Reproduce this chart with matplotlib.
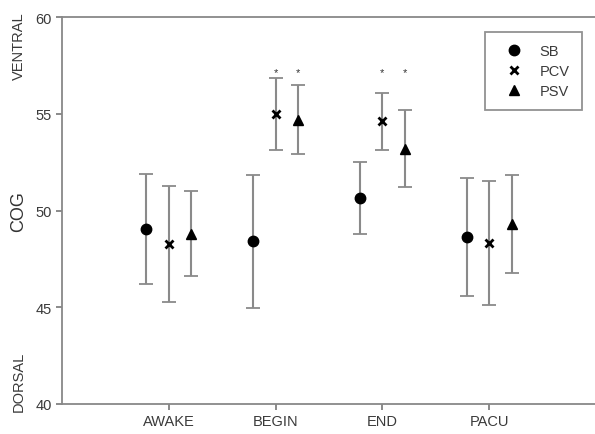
import matplotlib
matplotlib.use("Agg")
import matplotlib.pyplot as plt
from matplotlib.lines import Line2D
import numpy as np

plt.rcParams['font.family'] = ['Liberation Sans', 'DejaVu Sans']

phases = ["AWAKE", "BEGIN", "END", "PACU"]
series = ["SB", "PCV", "PSV"]
sb_mean = [49.05, 48.4, 50.65, 48.65]
sb_sd = [2.85, 3.45, 1.85, 3.05]
pcv_mean = [48.25, 55.0, 54.6, 48.3]
pcv_sd = [3.0, 1.85, 1.45, 3.2]
psv_mean = [48.8, 54.7, 53.2, 49.3]
psv_sd = [2.2, 1.8, 2.0, 2.55]
# significance markers (phase index, series index)
stars = [(1, 1), (1, 2), (2, 1), (2, 2)]
star_y = 57.15

means = [sb_mean, pcv_mean, psv_mean]
sds = [sb_sd, pcv_sd, psv_sd]
markers = ["o", "x", "^"]
msizes = [7.5, 6, 7]
offsets = [-0.21, 0.0, 0.21]

W, H = 595, 435
fig = plt.figure(figsize=(W / 100, H / 100), dpi=100)
ax = fig.add_axes([62 / W, 30 / H, 534 / W, 387 / H])

xpos = np.arange(1, len(phases) + 1)
for m, s, mk, ms, off in zip(means, sds, markers, msizes, offsets):
    ax.errorbar(xpos + off, m, yerr=s, fmt="none", ecolor="#8a8a8a",
                elinewidth=1.5, capsize=5, capthick=1.3, zorder=2)
    ax.plot(xpos + off, m, linestyle="none", marker=mk, markersize=ms,
            color="black", markeredgewidth=2 if mk == "x" else 1, zorder=3)

for pi, si in stars:
    ax.text(xpos[pi] + offsets[si], star_y, "*", ha="center", va="center",
            fontsize=8, color="#333333")

ax.set_xlim(0, 5)
ax.set_ylim(40, 60)
ax.set_xticks(xpos)
ax.set_xticklabels(phases)
ax.set_yticks([40, 45, 50, 55, 60])
ax.tick_params(axis="both", colors="#777777", labelcolor="#3a3a3a",
               labelsize=10.5, length=4, width=1.2)
for sp in ["left", "bottom", "top"]:
    ax.spines[sp].set_color("#888888")
    ax.spines[sp].set_linewidth(1.3)
ax.spines["right"].set_visible(False)

fig.text(19 / W, 1 - 212 / H, "COG", rotation=90, ha="center", va="center",
         fontsize=13, color="#333333")
fig.text(19 / W, 1 - 46 / H, "VENTRAL", rotation=90, ha="center", va="center",
         fontsize=10.5, color="#3a3a3a")
fig.text(19 / W, 1 - 382 / H, "DORSAL", rotation=90, ha="center", va="center",
         fontsize=10.5, color="#3a3a3a")

handles = [Line2D([], [], linestyle="none", marker=mk, markersize=ms,
                  color="black", markeredgewidth=2 if mk == "x" else 1)
           for mk, ms in zip(markers, msizes)]
leg = fig.legend(handles, series, loc="upper left",
                 bbox_to_anchor=(485 / W, 1 - 33 / H), frameon=True,
                 fancybox=False, fontsize=10.5, handlelength=2.3,
                 handletextpad=0.6, borderpad=0.85, labelspacing=0.4,
                 borderaxespad=0)
leg.get_frame().set_edgecolor("#777777")
leg.get_frame().set_linewidth(1.3)
for t in leg.get_texts():
    t.set_color("#3a3a3a")

fig.savefig("out.png", dpi=100)
